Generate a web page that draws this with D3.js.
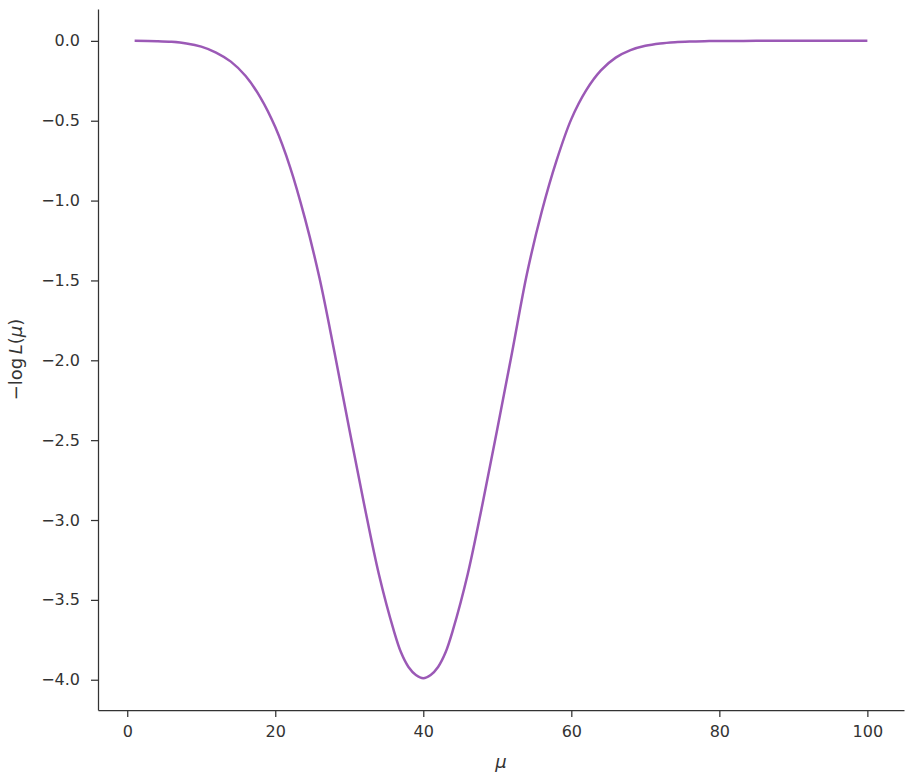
<!DOCTYPE html>
<html>
<head>
<meta charset="utf-8">
<script src="https://cdn.jsdelivr.net/npm/d3@7"></script>
<style>
  body { margin: 0; background: #fff; }
  text { font-family: "DejaVu Sans", sans-serif; fill: #333; }
</style>
</head>
<body>
<div id="chart"></div>
<script>
// values
var muValues = [1, 4, 6, 8, 10, 12, 14, 16, 18, 20, 22, 24, 26, 28, 30, 32, 34, 36, 37, 38, 39, 40,
  41, 42, 43, 44, 46, 48, 50, 52, 54, 56, 58, 60, 62, 64, 66, 68, 70, 72, 74, 76, 78, 80, 85, 90, 95, 100];
var negLogL = [0.000, -0.002, -0.006, -0.016, -0.036, -0.073, -0.13, -0.22, -0.355, -0.54,
  -0.79, -1.11, -1.49, -1.95, -2.43, -2.90, -3.34, -3.69, -3.83, -3.92, -3.97, -3.99,
  -3.97, -3.92, -3.83, -3.69, -3.34, -2.90, -2.43, -1.95, -1.46, -1.07, -0.75, -0.49,
  -0.31, -0.185, -0.105, -0.058, -0.031, -0.016, -0.008, -0.004, -0.002, -0.001,
  0.000, 0.000, 0.000, 0.000];
var xTicks = [0, 20, 40, 60, 80, 100];
var yTicks = [0.0, -0.5, -1.0, -1.5, -2.0, -2.5, -3.0, -3.5, -4.0];

var width = 913;
var height = 783;

var margin = { top: 9, right: 9, bottom: 73, left: 98 };

var svg = d3.select("#chart").append("svg")
  .attr("width", width)
  .attr("height", height);

var data = muValues.map(function (m, i) { return { x: m, y: negLogL[i] }; });

// matplotlib style 5% padding around the data
var xMin = d3.min(muValues), xMax = d3.max(muValues);
var yMin = d3.min(negLogL), yMax = d3.max(negLogL);
var xPad = (xMax - xMin) * 0.05, yPad = (yMax - yMin) * 0.05;

var x = d3.scaleLinear()
  .domain([xMin - xPad, xMax + xPad])
  .range([margin.left, width - margin.right]);

var y = d3.scaleLinear()
  .domain([yMin - yPad, yMax + yPad])
  .range([height - margin.bottom, margin.top]);

var xAxis = svg.append("g")
  .attr("transform", "translate(0," + (height - margin.bottom) + ")")
  .call(d3.axisBottom(x).tickValues(xTicks).tickSizeInner(7).tickSizeOuter(0).tickPadding(9)
    .tickFormat(d3.format("d")));

var yAxis = svg.append("g")
  .attr("transform", "translate(" + margin.left + ",0)")
  .call(d3.axisLeft(y).tickValues(yTicks).tickSizeInner(7).tickSizeOuter(0).tickPadding(11)
    .tickFormat(function (d) { return d3.format(".1f")(d).replace("-", "\u2212"); }));

[xAxis, yAxis].forEach(function (g) {
  g.attr("font-size", null).attr("font-family", null);
  g.select(".domain").attr("stroke", "#333").attr("stroke-width", 1.25);
  g.selectAll(".tick line").attr("stroke", "#333").attr("stroke-width", 1.25);
  g.selectAll(".tick text")
    .style("font-size", "16px")
    .style("font-family", "DejaVu Sans")
    .attr("fill", "#3a3a3a");
});

var line = d3.line()
  .x(function (d) { return x(d.x); })
  .y(function (d) { return y(d.y); })
  .curve(d3.curveCatmullRom.alpha(0.5));

svg.append("path")
  .datum(data)
  .attr("fill", "none")
  .attr("stroke", "#9b59b6")
  .attr("stroke-width", 2.5)
  .attr("d", line);

// axis labels
svg.append("text")
  .attr("x", (margin.left + width - margin.right) / 2)
  .attr("y", 768)
  .attr("text-anchor", "middle")
  .style("font-size", "18px")
  .style("font-style", "italic")
  .attr("fill", "#3a3a3a")
  .text("\u03bc");

var yLab = svg.append("text")
  .attr("transform", "translate(22," + ((margin.top + height - margin.bottom) / 2) + ") rotate(-90)")
  .attr("text-anchor", "middle")
  .attr("fill", "#3a3a3a")
  .style("font-size", "18px");
yLab.append("tspan").text("\u2212log\u2009");
yLab.append("tspan").style("font-style", "italic").text("L");
yLab.append("tspan").text("(");
yLab.append("tspan").style("font-style", "italic").text("\u03bc");
yLab.append("tspan").text(")");
</script>
</body>
</html>
